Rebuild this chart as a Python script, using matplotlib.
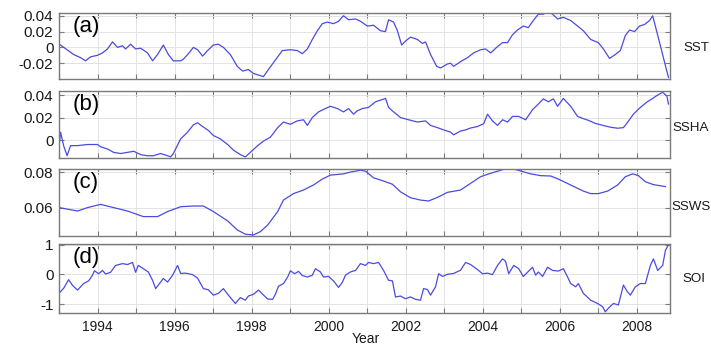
import numpy as np
import matplotlib
matplotlib.use("Agg")
import matplotlib.pyplot as plt

plt.rcParams['font.family'] = ['Liberation Sans', 'DejaVu Sans']

# ---- data ----
sst_year = [1993.01, 1993.21, 1993.38, 1993.56, 1993.69, 1993.82, 1994.00, 1994.13, 1994.26, 1994.39,
            1994.52, 1994.65, 1994.73, 1994.86, 1994.99, 1995.12, 1995.30, 1995.43, 1995.56, 1995.71,
            1995.84, 1995.97, 1996.16, 1996.23, 1996.36, 1996.49, 1996.60, 1996.73, 1996.86, 1997.01,
            1997.14, 1997.27, 1997.45, 1997.63, 1997.77, 1997.92, 1998.05, 1998.18, 1998.31, 1998.44,
            1998.62, 1998.80, 1999.01, 1999.19, 1999.32, 1999.45, 1999.58, 1999.71, 1999.84, 1999.97,
            2000.13, 2000.26, 2000.39, 2000.52, 2000.70, 2000.83, 2001.01, 2001.17, 2001.35, 2001.48,
            2001.56, 2001.69, 2001.79, 2001.90, 2002.00, 2002.13, 2002.31, 2002.44, 2002.52, 2002.65,
            2002.81, 2002.91, 2003.09, 2003.17, 2003.25, 2003.43, 2003.61, 2003.77, 2003.95, 2004.08,
            2004.21, 2004.39, 2004.52, 2004.65, 2004.78, 2004.91, 2005.06, 2005.19, 2005.32, 2005.45,
            2005.58, 2005.69, 2005.82, 2005.95, 2006.10, 2006.29, 2006.47, 2006.62, 2006.81, 2007.01,
            2007.14, 2007.30, 2007.45, 2007.58, 2007.71, 2007.82, 2007.95, 2008.08, 2008.21, 2008.34,
            2008.42, 2008.60, 2008.73, 2008.83]
sst = [0.004, -0.003, -0.009, -0.013, -0.017, -0.012, -0.010, -0.007, -0.002, 0.007,
       0.000, 0.002, -0.002, 0.004, -0.002, -0.001, -0.007, -0.017, -0.009, 0.003,
       -0.009, -0.017, -0.017, -0.015, -0.008, 0.000, -0.003, -0.011, -0.004, 0.003,
       0.004, 0.000, -0.009, -0.024, -0.030, -0.028, -0.033, -0.035, -0.037, -0.028,
       -0.016, -0.004, -0.003, -0.004, -0.008, -0.002, 0.010, 0.021, 0.030, 0.032,
       0.030, 0.033, 0.040, 0.035, 0.036, 0.033, 0.027, 0.028, 0.021, 0.020,
       0.035, 0.032, 0.021, 0.003, 0.008, 0.013, 0.010, 0.005, 0.007, -0.009,
       -0.024, -0.026, -0.021, -0.020, -0.024, -0.018, -0.013, -0.007, -0.003, -0.002,
       -0.007, 0.001, 0.006, 0.006, 0.016, 0.022, 0.027, 0.025, 0.034, 0.042,
       0.042, 0.046, 0.042, 0.036, 0.038, 0.034, 0.027, 0.021, 0.010, 0.006,
       -0.002, -0.014, -0.009, -0.004, 0.015, 0.022, 0.020, 0.027, 0.029, 0.034,
       0.040, 0.006, -0.019, -0.038]

ssha_year = [1993.01, 1993.04, 1993.06, 1993.12, 1993.21, 1993.30, 1993.48, 1993.74, 1994.00, 1994.08,
             1994.26, 1994.42, 1994.60, 1994.78, 1994.94, 1995.12, 1995.30, 1995.45, 1995.64, 1995.82,
             1995.90, 1995.97, 1996.16, 1996.34, 1996.49, 1996.60, 1996.73, 1996.88, 1997.01, 1997.19,
             1997.38, 1997.53, 1997.71, 1997.84, 1997.97, 1998.16, 1998.31, 1998.49, 1998.68, 1998.83,
             1999.01, 1999.19, 1999.35, 1999.45, 1999.58, 1999.74, 1999.92, 2000.05, 2000.23, 2000.39,
             2000.52, 2000.65, 2000.75, 2000.88, 2001.04, 2001.22, 2001.40, 2001.48, 2001.56, 2001.69,
             2001.87, 2002.08, 2002.31, 2002.52, 2002.65, 2002.83, 2002.99, 2003.17, 2003.25, 2003.43,
             2003.56, 2003.69, 2003.87, 2004.03, 2004.13, 2004.26, 2004.39, 2004.52, 2004.65, 2004.78,
             2004.94, 2005.12, 2005.30, 2005.45, 2005.58, 2005.71, 2005.84, 2005.95, 2006.10, 2006.29,
             2006.47, 2006.62, 2006.75, 2006.93, 2007.14, 2007.32, 2007.51, 2007.66, 2007.76, 2007.92,
             2008.10, 2008.28, 2008.42, 2008.55, 2008.68, 2008.79, 2008.83]
ssha = [-0.003, 0.007, 0.004, -0.005, -0.014, -0.005, -0.005, -0.004, -0.004, -0.006,
        -0.008, -0.011, -0.012, -0.011, -0.010, -0.013, -0.014, -0.014, -0.012, -0.014,
        -0.015, -0.012, 0.001, 0.007, 0.0135, 0.0153, 0.012, 0.0085, 0.004, 0.001,
        -0.004, -0.009, -0.013, -0.015, -0.011, -0.005, -0.001, 0.0025, 0.011, 0.016,
        0.014, 0.017, 0.018, 0.013, 0.020, 0.025, 0.028, 0.030, 0.028, 0.025,
        0.028, 0.023, 0.026, 0.028, 0.029, 0.034, 0.036, 0.037, 0.029, 0.025,
        0.020, 0.018, 0.016, 0.017, 0.013, 0.011, 0.009, 0.007, 0.0046, 0.008,
        0.009, 0.0107, 0.012, 0.0145, 0.023, 0.017, 0.013, 0.018, 0.016, 0.021,
        0.021, 0.018, 0.027, 0.032, 0.0366, 0.034, 0.0366, 0.030, 0.037, 0.030,
        0.021, 0.019, 0.0175, 0.0148, 0.0129, 0.0114, 0.0105, 0.011, 0.0154, 0.023,
        0.029, 0.034, 0.037, 0.040, 0.0425, 0.039, 0.032]

ssws_year = [1993.01, 1993.48, 1993.74, 1994.08, 1994.42, 1994.78, 1995.19, 1995.56, 1995.82, 1996.16,
             1996.49, 1996.75, 1997.01, 1997.38, 1997.63, 1997.84, 1998.05, 1998.23, 1998.42, 1998.68,
             1998.83, 1999.09, 1999.35, 1999.61, 1999.84, 2000.05, 2000.39, 2000.57, 2000.83, 2000.96,
             2001.17, 2001.43, 2001.66, 2001.87, 2002.13, 2002.39, 2002.60, 2002.83, 2003.09, 2003.43,
             2003.69, 2003.95, 2004.21, 2004.55, 2004.81, 2004.99, 2005.25, 2005.51, 2005.77, 2005.97,
             2006.29, 2006.62, 2006.81, 2007.01, 2007.25, 2007.51, 2007.71, 2007.90, 2008.05, 2008.23,
             2008.44, 2008.75]
ssws = [0.0602, 0.0583, 0.0602, 0.0620, 0.0602, 0.0583, 0.0552, 0.0552, 0.0580, 0.0607,
        0.0611, 0.0611, 0.0580, 0.0528, 0.0478, 0.0454, 0.0450, 0.0468, 0.0505, 0.0580,
        0.0644, 0.0680, 0.0700, 0.0728, 0.0761, 0.0783, 0.0790, 0.0800, 0.0810, 0.0805,
        0.0768, 0.0750, 0.0732, 0.0690, 0.0657, 0.0644, 0.0639, 0.0659, 0.0687, 0.0700,
        0.0737, 0.0774, 0.0793, 0.0815, 0.0817, 0.0806, 0.0790, 0.0780, 0.0778, 0.0761,
        0.0728, 0.0694, 0.0680, 0.0680, 0.0694, 0.0728, 0.0774, 0.0790, 0.0780, 0.0746,
        0.0730, 0.0719]

soi_year = [1993.01, 1993.12, 1993.25, 1993.35, 1993.48, 1993.64, 1993.77, 1993.87, 1993.92, 1994.03,
            1994.13, 1994.21, 1994.34, 1994.47, 1994.65, 1994.78, 1994.91, 1994.99, 1995.06, 1995.19,
            1995.32, 1995.43, 1995.51, 1995.61, 1995.71, 1995.82, 1995.95, 1996.08, 1996.16, 1996.29,
            1996.47, 1996.60, 1996.75, 1996.88, 1997.01, 1997.14, 1997.27, 1997.40, 1997.58, 1997.71,
            1997.84, 1997.92, 1998.05, 1998.18, 1998.29, 1998.42, 1998.55, 1998.62, 1998.70, 1998.83,
            1998.94, 1999.01, 1999.12, 1999.22, 1999.32, 1999.45, 1999.58, 1999.66, 1999.79, 1999.87,
            2000.00, 2000.13, 2000.26, 2000.36, 2000.44, 2000.57, 2000.70, 2000.83, 2000.96, 2001.04,
            2001.17, 2001.30, 2001.43, 2001.56, 2001.66, 2001.74, 2001.87, 2002.00, 2002.13, 2002.26,
            2002.39, 2002.47, 2002.57, 2002.65, 2002.78, 2002.86, 2002.96, 2003.09, 2003.25, 2003.43,
            2003.56, 2003.69, 2003.87, 2004.00, 2004.13, 2004.26, 2004.39, 2004.52, 2004.60, 2004.68,
            2004.81, 2004.94, 2005.06, 2005.19, 2005.30, 2005.38, 2005.45, 2005.56, 2005.69, 2005.82,
            2005.97, 2006.10, 2006.21, 2006.29, 2006.42, 2006.49, 2006.62, 2006.81, 2006.99, 2007.12,
            2007.19, 2007.27, 2007.40, 2007.53, 2007.66, 2007.76, 2007.84, 2007.97, 2008.10, 2008.23,
            2008.36, 2008.44, 2008.55, 2008.68, 2008.75, 2008.83]
soi = [-0.62, -0.47, -0.18, -0.37, -0.53, -0.31, -0.22, -0.03, 0.12, 0.02,
       0.13, 0.01, 0.07, 0.30, 0.36, 0.33, 0.40, 0.07, 0.30, 0.19,
       0.08, -0.20, -0.48, -0.31, -0.14, -0.26, -0.03, 0.30, 0.03, 0.04,
       -0.01, -0.13, -0.48, -0.52, -0.70, -0.64, -0.48, -0.70, -0.98, -0.78,
       -0.87, -0.73, -0.67, -0.53, -0.67, -0.83, -0.84, -0.67, -0.40, -0.31,
       -0.09, 0.12, 0.02, 0.10, -0.04, -0.09, -0.03, 0.19, 0.08, -0.09,
       -0.07, -0.22, -0.44, -0.27, -0.03, 0.08, 0.13, 0.36, 0.30, 0.40,
       0.36, 0.40, 0.13, -0.20, -0.22, -0.76, -0.73, -0.82, -0.76, -0.84,
       -0.87, -0.48, -0.51, -0.70, -0.42, 0.02, -0.07, 0.00, 0.03, 0.14,
       0.40, 0.33, 0.16, 0.02, 0.04, -0.01, 0.30, 0.52, 0.44, 0.02,
       0.30, 0.19, -0.07, 0.10, 0.24, -0.03, 0.08, -0.07, 0.24, 0.13,
       0.11, 0.19, -0.09, -0.31, -0.42, -0.31, -0.64, -0.87, -0.98, -1.09,
       -1.26, -1.14, -0.98, -1.03, -0.36, -0.58, -0.70, -0.42, -0.31, -0.31,
       0.30, 0.52, 0.13, 0.30, 0.80, 1.00]

panel_tags = ['(a)', '(b)', '(c)', '(d)']
side_names = ['SST', 'SSHA', 'SSWS', 'SOI']
y_ticks = [[-0.02, 0, 0.02, 0.04], [0, 0.02, 0.04], [0.06, 0.08], [-1, 0, 1]]
y_ticklabels = [['-0.02', '0', '0.02', '0.04'], ['0', '0.02', '0.04'], ['0.06', '0.08'], ['-1', '0', '1']]
y_limits = [(-0.040, 0.0435), (-0.016, 0.0436), (0.0444, 0.0817), (-1.30, 1.02)]
years = list(range(1993, 2009))

LINE_COLOR = '#4b4be0'
FRAME_COLOR = '#7a7a7a'


def draw_panel(fig, rect, x, y, idx, bottom=False):
    """one strip of the stacked time series"""
    ax = fig.add_axes(rect)
    ax.plot(x, y, color=LINE_COLOR, lw=0.9)
    ax.set_xlim(1993, 2008.87)
    ax.set_ylim(*y_limits[idx])
    ax.set_yticks(y_ticks[idx])
    ax.set_yticklabels(y_ticklabels[idx])
    ax.set_xticks(years)
    if bottom:
        ax.set_xticklabels([str(v) if v % 2 == 0 else '' for v in years])
    else:
        ax.set_xticklabels([])
    ax.grid(True, color='#e3e3e3', lw=0.7)
    ax.set_axisbelow(True)
    ax.tick_params(direction='in', top=True, right=True, length=3.5, width=0.8,
                   color=FRAME_COLOR, labelcolor='#1a1a1a')
    ax.tick_params(axis='y', labelsize=11, pad=4)
    ax.tick_params(axis='x', labelsize=10, pad=5)
    for s in ax.spines.values():
        s.set_color(FRAME_COLOR)
        s.set_linewidth(1.0)
    ax.text(0.023, 0.8, panel_tags[idx], transform=ax.transAxes,
            fontsize=16, ha='left', va='center')
    return ax


def main():
    W, H = 711, 345
    fig = plt.figure(figsize=(W / 100, H / 100), dpi=100)

    left, right = 59 / W, 670 / W
    # (top, bottom) of each strip in pixels
    strips = [(13, 79), (91, 158), (169, 236), (244, 313)]
    series = [(sst_year, sst), (ssha_year, ssha), (ssws_year, ssws), (soi_year, soi)]

    for i, ((t, b), (x, y)) in enumerate(zip(strips, series)):
        rect = [left, 1 - b / H, right - left, (b - t) / H]
        draw_panel(fig, rect, x, y, i, bottom=(i == 3))

    # names on the right hand side (kept inside the canvas)
    name_pos = [(683, 48), (672, 128), (671, 207), (682, 279)]
    for name, (px, py) in zip(side_names, name_pos):
        fig.text(px / W, 1 - py / H, name, fontsize=9.6, ha='left', va='center', color='#1a1a1a')

    fig.text(366 / W, 1 - 339 / H, 'Year', fontsize=10, ha='center', va='center', color='#1a1a1a')

    fig.savefig('out.png', dpi=100)


if __name__ == "__main__":
    main()
